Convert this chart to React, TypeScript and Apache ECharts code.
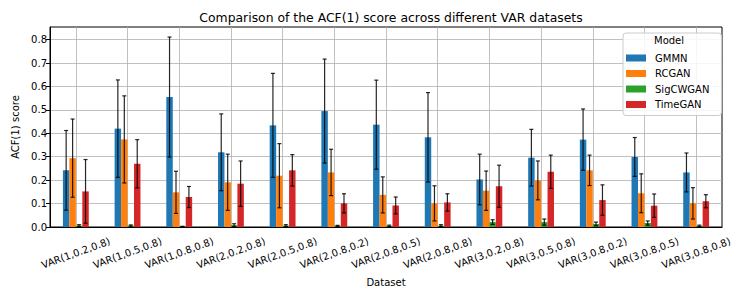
import React, { useEffect, useRef } from "react";
import * as echarts from "echarts";

const categories = [
  "VAR(1,0.2,0.8)", "VAR(1,0.5,0.8)", "VAR(1,0.8,0.8)", "VAR(2,0.2,0.8)", "VAR(2,0.5,0.8)",
  "VAR(2,0.8,0.2)", "VAR(2,0.8,0.5)", "VAR(2,0.8,0.8)", "VAR(3,0.2,0.8)", "VAR(3,0.5,0.8)",
  "VAR(3,0.8,0.2)", "VAR(3,0.8,0.5)", "VAR(3,0.8,0.8)",
];
const models = ["GMMN", "RCGAN", "SigCWGAN", "TimeGAN"];
const colors = ["#1f77b4", "#ff7f0e", "#2ca02c", "#d62728"];

const gmmn = [0.242, 0.42, 0.555, 0.319, 0.434, 0.495, 0.437, 0.383, 0.203, 0.296, 0.373, 0.299, 0.233];
const gmmnErr = [0.17, 0.208, 0.256, 0.164, 0.222, 0.222, 0.19, 0.191, 0.108, 0.121, 0.131, 0.083, 0.083];
const rcgan = [0.294, 0.374, 0.148, 0.191, 0.219, 0.233, 0.137, 0.101, 0.155, 0.199, 0.242, 0.144, 0.101];
const rcganErr = [0.167, 0.186, 0.09, 0.12, 0.137, 0.099, 0.077, 0.075, 0.084, 0.083, 0.065, 0.083, 0.067];
const sigcwgan = [0.006, 0.006, 0.002, 0.008, 0.006, 0.005, 0.005, 0.006, 0.021, 0.021, 0.013, 0.017, 0.005];
const sigcwganErr = [0.004, 0.003, 0.001, 0.006, 0.004, 0.002, 0.003, 0.004, 0.01, 0.013, 0.008, 0.009, 0.003];
const timegan = [0.152, 0.27, 0.128, 0.185, 0.242, 0.101, 0.092, 0.105, 0.174, 0.236, 0.115, 0.091, 0.11];
const timeganErr = [0.136, 0.103, 0.045, 0.097, 0.067, 0.041, 0.036, 0.037, 0.09, 0.071, 0.065, 0.05, 0.028];

const yTicks = [0, 0.1, 0.2, 0.3, 0.4, 0.5, 0.6, 0.7, 0.8];
const yMax = 0.854;

const values = [gmmn, rcgan, sigcwgan, timegan];
const errors = [gmmnErr, rcganErr, sigcwganErr, timeganErr];

const FONT = "DejaVu Sans";

export default function App() {
  const ref = useRef<HTMLDivElement>(null);
  useEffect(() => {
    if (!ref.current) return;
    const chart = echarts.init(ref.current, null, { renderer: "svg" });
    const option: any = {
      animation: false,
      backgroundColor: "#fff",
      textStyle: { fontFamily: FONT },
      title: {
        text: "Comparison of the ACF(1) score across different VAR datasets",
        left: 386,
        textAlign: "center",
        top: 6,
        textStyle: { fontSize: 12.4, fontWeight: "normal", color: "#000", fontFamily: FONT },
      },
      grid: {
        left: 50, right: 25, top: 27, bottom: 72,
        show: true, borderColor: "#000", borderWidth: 1,
      },
      legend: {
        orient: "vertical",
        left: 623,
        top: 33,
        data: models,
        itemWidth: 20,
        itemHeight: 7,
        itemGap: 3.5,
        icon: "rect",
        padding: [19, 12, 5, 3],
        backgroundColor: "rgba(255,255,255,0.85)",
        borderColor: "#cccccc",
        borderWidth: 1,
        borderRadius: 3,
        textStyle: { fontSize: 10, color: "#000", fontFamily: FONT, lineHeight: 12, padding: [0, 0, 0, 4] },
      },
      graphic: [
        {
          type: "text",
          left: 654,
          top: 35,
          z: 100,
          style: { text: "Model", fontSize: 10, fill: "#000", fontFamily: FONT },
        },
      ],
      xAxis: {
        type: "category",
        data: categories,
        name: "Dataset",
        nameLocation: "middle",
        nameGap: 50,
        nameTextStyle: { fontSize: 10, color: "#000", fontFamily: FONT },
        axisLine: { lineStyle: { color: "#000", width: 1 } },
        axisTick: { alignWithLabel: true, length: 4, lineStyle: { color: "#000" } },
        axisLabel: {
          interval: 0, rotate: 20, align: "center", verticalAlign: "middle", margin: 26,
          fontSize: 10, color: "#000", fontFamily: FONT,
        },
        splitLine: { show: true, alignWithLabel: true, lineStyle: { color: "#b0b0b0", width: 0.8 } },
      },
      yAxis: {
        type: "value",
        min: 0,
        max: yMax,
        interval: 0.1,
        name: "ACF(1) score",
        nameLocation: "middle",
        nameGap: 29,
        nameTextStyle: { fontSize: 10, color: "#000", fontFamily: FONT },
        axisLine: { show: true, lineStyle: { color: "#000", width: 1 } },
        axisTick: { show: true, length: 4, lineStyle: { color: "#000" }, customValues: yTicks },
        axisLabel: {
          fontSize: 10, color: "#000", fontFamily: FONT, margin: 3,
          customValues: yTicks,
          formatter: (v: number) => (v > 0.81 ? "" : v.toFixed(1)),
        },
        splitLine: { show: true, lineStyle: { color: "#b0b0b0", width: 0.8 } },
      },
      series: [
        ...models.map((m, i) => ({
          name: m,
          type: "bar",
          data: values[i],
          barGap: "0%",
          barCategoryGap: "50%",
          itemStyle: { color: colors[i] },
          z: 2,
        })),
        {
          type: "custom",
          z: 5,
          clip: true,
          data: categories.map((_, i) => [i, 0]),
          renderItem: (params: any, api: any) => {
            const idx = api.value(0);
            const band = api.size([1, 0])[0];
            const bw = (band * 0.5) / 4;
            const children: any[] = [];
            for (let m = 0; m < 4; m++) {
              const v = values[m][idx];
              const e = errors[m][idx];
              const top = api.coord([idx, v + e]);
              const bot = api.coord([idx, Math.max(v - e, 0)]);
              const x = top[0] + (m - 1.5) * bw;
              const style = { stroke: "rgba(0,0,0,0.85)", lineWidth: 1.2 };
              children.push({ type: "line", shape: { x1: x, y1: top[1], x2: x, y2: bot[1] }, style });
              children.push({ type: "line", shape: { x1: x - 2, y1: top[1], x2: x + 2, y2: top[1] }, style });
              children.push({ type: "line", shape: { x1: x - 2, y1: bot[1], x2: x + 2, y2: bot[1] }, style });
            }
            return { type: "group", children };
          },
        },
      ],
    };
    chart.setOption(option);
    return () => chart.dispose();
  }, []);
  return <div ref={ref} style={{ width: 747, height: 299, margin: -8 }} />;
}
